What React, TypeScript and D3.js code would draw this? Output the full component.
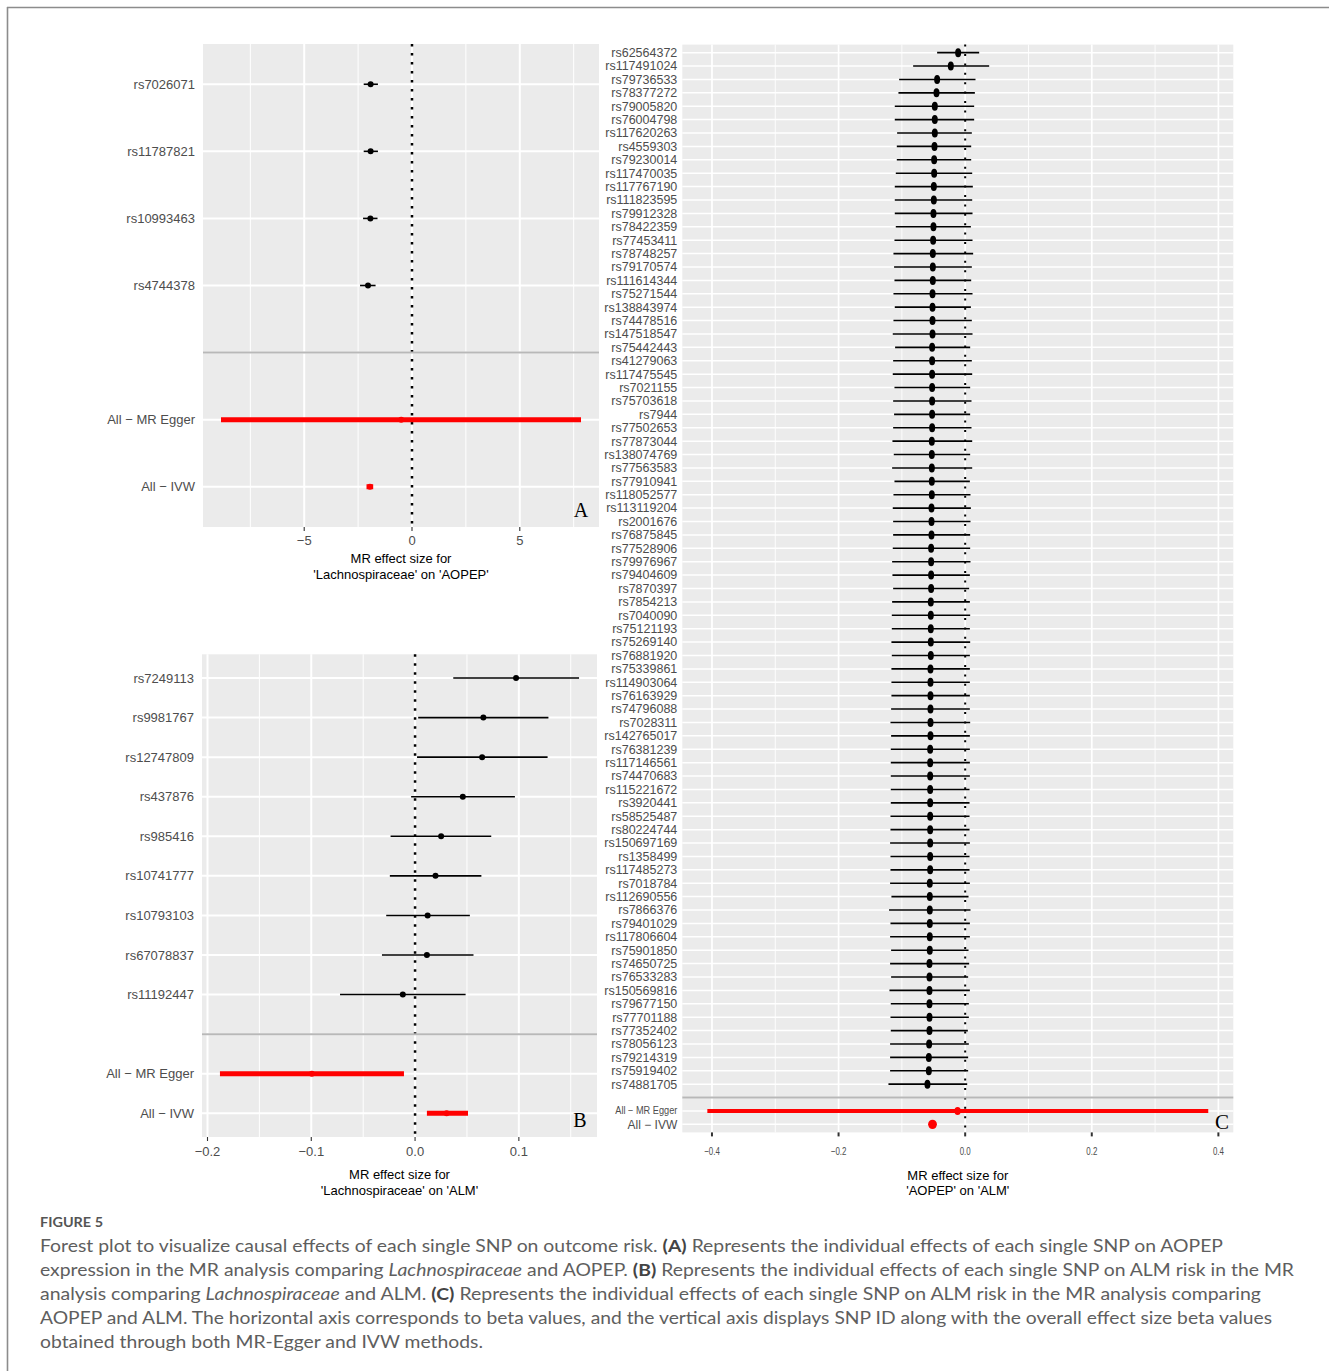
import React from 'react';
import * as d3 from 'd3';

// ---------------- Panel A data ----------------
const aSnps = ['rs7026071', 'rs11787821', 'rs10993463', 'rs4744378'];
const aBeta = [-1.92, -1.92, -1.93, -2.04];
const aLo = [-2.24, -2.24, -2.27, -2.41];
const aHi = [-1.58, -1.58, -1.6, -1.69];
const aMethods = ['All − MR Egger', 'All − IVW'];
const aMBeta = [-0.5, -1.95];
const aMLo = [-8.86, -2.11];
const aMHi = [7.84, -1.8];
const aMajor = [-5, 0, 5];
const aMinor = [-7.5, -2.5, 2.5, 7.5];

// ---------------- Panel B data ----------------
const bSnps = ['rs7249113', 'rs9981767', 'rs12747809', 'rs437876', 'rs985416', 'rs10741777', 'rs10793103', 'rs67078837', 'rs11192447'];
const bBeta = [0.0973, 0.0658, 0.0646, 0.046, 0.0251, 0.0197, 0.0121, 0.0114, -0.0118];
const bLo = [0.0368, 0.003, 0.0019, -0.0038, -0.0236, -0.0243, -0.0278, -0.0319, -0.0723];
const bHi = [0.158, 0.1285, 0.1277, 0.0962, 0.0734, 0.0639, 0.0528, 0.0563, 0.0487];
const bMethods = ['All − MR Egger', 'All − IVW'];
const bMBeta = [-0.0995, 0.0304];
const bMLo = [-0.188, 0.0114];
const bMHi = [-0.0107, 0.051];
const bMajor = [-0.2, -0.1, 0, 0.1];
const bMinor = [-0.15, -0.05, 0.05, 0.15];

// ---------------- Panel C data ----------------
const cSnps = [
  'rs62564372', 'rs117491024', 'rs79736533', 'rs78377272', 'rs79005820', 'rs76004798', 'rs117620263', 'rs4559303',
  'rs79230014', 'rs117470035', 'rs117767190', 'rs111823595', 'rs79912328', 'rs78422359', 'rs77453411', 'rs78748257',
  'rs79170574', 'rs111614344', 'rs75271544', 'rs138843974', 'rs74478516', 'rs147518547', 'rs75442443', 'rs41279063',
  'rs117475545', 'rs7021155', 'rs75703618', 'rs7944', 'rs77502653', 'rs77873044', 'rs138074769', 'rs77563583',
  'rs77910941', 'rs118052577', 'rs113119204', 'rs2001676', 'rs76875845', 'rs77528906', 'rs79976967', 'rs79404609',
  'rs7870397', 'rs7854213', 'rs7040090', 'rs75121193', 'rs75269140', 'rs76881920', 'rs75339861', 'rs114903064',
  'rs76163929', 'rs74796088', 'rs7028311', 'rs142765017', 'rs76381239', 'rs117146561', 'rs74470683', 'rs115221672',
  'rs3920441', 'rs58525487', 'rs80224744', 'rs150697169', 'rs1358499', 'rs117485273', 'rs7018784', 'rs112690556',
  'rs7866376', 'rs79401029', 'rs117806604', 'rs75901850', 'rs74650725', 'rs76533283', 'rs150569816', 'rs79677150',
  'rs77701188', 'rs77352402', 'rs78056123', 'rs79214319', 'rs75919402', 'rs74881705',
];
const cBeta = [
  -0.0111, -0.0227, -0.0443, -0.0453, -0.048, -0.048, -0.048, -0.0485,
  -0.049, -0.049, -0.0495, -0.0495, -0.0501, -0.0501, -0.0506, -0.0511,
  -0.0511, -0.0511, -0.0516, -0.0516, -0.0516, -0.0516, -0.0522, -0.0522,
  -0.0522, -0.0522, -0.0522, -0.0522, -0.0522, -0.0527, -0.0527, -0.0527,
  -0.0527, -0.0527, -0.0532, -0.0532, -0.0532, -0.0538, -0.0538, -0.0538,
  -0.0538, -0.0543, -0.0543, -0.0543, -0.0543, -0.0543, -0.0548, -0.0548,
  -0.0548, -0.0548, -0.0548, -0.0548, -0.0553, -0.0553, -0.0553, -0.0553,
  -0.0553, -0.0553, -0.0553, -0.0553, -0.0553, -0.0553, -0.0559, -0.0559,
  -0.0559, -0.0559, -0.0559, -0.0559, -0.0564, -0.0564, -0.0564, -0.0564,
  -0.0564, -0.0564, -0.0569, -0.0574, -0.0574, -0.0596,
];
const cLo = [
  -0.0443, -0.0822, -0.1043, -0.1054, -0.1112, -0.1112, -0.1075, -0.108,
  -0.108, -0.1096, -0.1112, -0.1112, -0.1112, -0.1096, -0.1117, -0.1133,
  -0.1123, -0.1117, -0.1133, -0.1112, -0.1133, -0.1144, -0.1107, -0.1138,
  -0.1144, -0.1117, -0.1138, -0.1123, -0.1138, -0.1149, -0.1128, -0.1154,
  -0.1117, -0.1133, -0.1144, -0.1138, -0.1138, -0.1144, -0.1154, -0.1149,
  -0.1138, -0.1154, -0.1159, -0.1159, -0.1165, -0.1159, -0.1165, -0.1165,
  -0.1165, -0.117, -0.118, -0.117, -0.1175, -0.1175, -0.1175, -0.1175,
  -0.1175, -0.118, -0.118, -0.1186, -0.118, -0.118, -0.1186, -0.1165,
  -0.1202, -0.118, -0.1186, -0.117, -0.1186, -0.117, -0.1196, -0.1175,
  -0.118, -0.1175, -0.1186, -0.1186, -0.1186, -0.1212,
];
const cHi = [
  0.0221, 0.0379, 0.0163, 0.0153, 0.0142, 0.0142, 0.0105, 0.0095,
  0.0095, 0.0111, 0.0121, 0.0111, 0.0116, 0.009, 0.0116, 0.0126,
  0.0105, 0.0095, 0.0116, 0.009, 0.0105, 0.0116, 0.0079, 0.0105,
  0.0111, 0.0079, 0.01, 0.0079, 0.01, 0.0111, 0.0079, 0.0111,
  0.0074, 0.0084, 0.009, 0.0084, 0.0079, 0.0079, 0.0084, 0.0074,
  0.0063, 0.0074, 0.0079, 0.0074, 0.0079, 0.0074, 0.0074, 0.0074,
  0.0074, 0.0074, 0.0079, 0.0074, 0.0074, 0.0074, 0.0074, 0.0069,
  0.0069, 0.0069, 0.0069, 0.0074, 0.0069, 0.0069, 0.0074, 0.0053,
  0.0084, 0.0074, 0.0074, 0.0053, 0.0063, 0.0047, 0.0074, 0.0058,
  0.0058, 0.0042, 0.0058, 0.0047, 0.0047, 0.0032,
];
const cMethods = ['All − MR Egger', 'All − IVW'];
const cMBeta = [-0.012, -0.0516];
const cMLo = [-0.4073, -0.056];
const cMHi = [0.384, -0.047];
const cMajor = [-0.4, -0.2, 0, 0.2, 0.4];
const cMinor = [-0.3, -0.1, 0.1, 0.3];

const SANS = "'Liberation Sans', Arial, Helvetica, sans-serif";
const SERIF = "'Liberation Serif', 'Times New Roman', serif";

type PanelProps = {
  snps: string[]; beta: number[]; lo: number[]; hi: number[];
  methods: string[]; mBeta: number[]; mLo: number[]; mHi: number[];
  major: number[]; minor: number[]; fmt: string;
  left: number; right: number; top: number; bottom: number;
  title: string[]; letter: string;
  labelFont: number; labelGap: number;
  tickFont: number; tickScaleX: number; tickLabelDy: number; tickW: number; tickColor: string;
  titleDy: number; titleGap: number;
  pointRx: number; pointRy: number; barW: number;
  mBarW: number; mPoint: number[][];
  hGridW: number; vMajorW: number; vMinorW: number;
  dash: string; dashW: number; sepW: number;
  letterX: number; letterY: number; letterSize: number;
  methodLabelSize?: number[]; methodLabelLen?: (number | null)[];
};

function ForestPanel(p: PanelProps) {
  const cats = [...p.snps, '', ...p.methods];
  const y = d3.scalePoint<string>().domain(cats).range([p.top, p.bottom]).padding(0.6);
  const lo = d3.min([...p.lo, ...p.mLo]) as number;
  const hi = d3.max([...p.hi, ...p.mHi]) as number;
  const pad = (hi - lo) * 0.05;
  const x = d3.scaleLinear().domain([lo - pad, hi + pad]).range([p.left, p.right]);
  const fmt = d3.format(p.fmt);
  const cx = (p.left + p.right) / 2;
  return (
    <g>
      <rect x={p.left} y={p.top} width={p.right - p.left} height={p.bottom - p.top} fill="#EBEBEB" />
      {p.minor.map((v) => (
        <line key={'mi' + v} x1={x(v)} x2={x(v)} y1={p.top} y2={p.bottom} stroke="#fff" strokeWidth={p.vMinorW} />
      ))}
      {p.major.map((v) => (
        <line key={'ma' + v} x1={x(v)} x2={x(v)} y1={p.top} y2={p.bottom} stroke="#fff" strokeWidth={p.vMajorW} />
      ))}
      {cats.map((c, i) => (
        <line key={'h' + i} x1={p.left} x2={p.right} y1={y(c)} y2={y(c)} stroke="#fff" strokeWidth={p.hGridW} />
      ))}
      <line x1={x(0)} x2={x(0)} y1={p.top} y2={p.bottom} stroke="#000" strokeWidth={p.dashW} strokeDasharray={p.dash} />
      {p.snps.map((s, i) => (
        <g key={'s' + s}>
          <line x1={x(p.lo[i])} x2={x(p.hi[i])} y1={y(s)} y2={y(s)} stroke="#000" strokeWidth={p.barW} />
          <ellipse cx={x(p.beta[i])} cy={y(s)} rx={p.pointRx} ry={p.pointRy} fill="#000" />
        </g>
      ))}
      {p.methods.map((m, i) => (
        <g key={'m' + m}>
          <line x1={x(p.mLo[i])} x2={x(p.mHi[i])} y1={y(m)} y2={y(m)} stroke="#FF0000" strokeWidth={p.mBarW} />
          <ellipse cx={x(p.mBeta[i])} cy={y(m)} rx={p.mPoint[i][0]} ry={p.mPoint[i][1]} fill="#FF0000" />
        </g>
      ))}
      <line x1={p.left} x2={p.right} y1={y('')} y2={y('')} stroke="#B8B8B8" strokeWidth={p.sepW} />
      {p.snps.map((s) => (
        <text key={'l' + s} x={p.left - p.labelGap} y={(y(s) as number)} dy="0.35em" textAnchor="end"
          fontFamily={SANS} fontSize={p.labelFont} fill="#4D4D4D">{s}</text>
      ))}
      {p.methods.map((m, i) => (
        <text key={'ml' + m} x={p.left - p.labelGap} y={(y(m) as number)} dy="0.35em" textAnchor="end"
          fontFamily={SANS} fontSize={p.methodLabelSize ? p.methodLabelSize[i] : p.labelFont} fill="#4D4D4D"
          {...(p.methodLabelLen && p.methodLabelLen[i] ? { textLength: p.methodLabelLen[i] as number, lengthAdjust: 'spacingAndGlyphs' } : {})}>
          {m}
        </text>
      ))}
      {p.major.map((v) => (
        <g key={'t' + v} transform={`translate(${x(v)},${p.bottom})`}>
          <line y1={0} y2={4} stroke={p.tickColor} strokeWidth={p.tickW} />
          <text y={p.tickLabelDy} textAnchor="middle" fontFamily={SANS} fontSize={p.tickFont} fill="#4D4D4D"
            transform={`scale(${p.tickScaleX},1)`}>{fmt(v)}</text>
        </g>
      ))}
      {p.title.map((t, i) => (
        <text key={'ti' + i} x={cx} y={p.bottom + p.titleDy + i * p.titleGap} textAnchor="middle"
          fontFamily={SANS} fontSize={13} fill="#000">{t}</text>
      ))}
      <text x={p.letterX} y={p.letterY} textAnchor="middle" fontFamily={SERIF} fontSize={p.letterSize} fill="#000">{p.letter}</text>
    </g>
  );
}

const captionLines = [
  [
    { t: 'Forest plot to visualize causal effects of each single SNP on outcome risk. ' },
    { t: '(A)', b: true },
    { t: ' Represents the individual effects of each single SNP on AOPEP' },
  ],
  [
    { t: 'expression in the MR analysis comparing ' },
    { t: 'Lachnospiraceae', i: true },
    { t: ' and AOPEP. ' },
    { t: '(B)', b: true },
    { t: ' Represents the individual effects of each single SNP on ALM risk in the MR' },
  ],
  [
    { t: 'analysis comparing ' },
    { t: 'Lachnospiraceae', i: true },
    { t: ' and ALM. ' },
    { t: '(C)', b: true },
    { t: ' Represents the individual effects of each single SNP on ALM risk in the MR analysis comparing' },
  ],
  [
    { t: 'AOPEP and ALM. The horizontal axis corresponds to beta values, and the vertical axis displays SNP ID along with the overall effect size beta values' },
  ],
  [{ t: 'obtained through both MR-Egger and IVW methods.' }],
];
const captionWidths = [1183, 1254, 1221, 1232, 443];

export default function App() {
  const common = {
    labelFont: 13, labelGap: 8, tickFont: 13, tickScaleX: 1, tickW: 1.1, tickColor: '#333',
    titleGap: 15.5, pointRx: 3, pointRy: 3, barW: 1.6, mBarW: 5, mPoint: [[3, 3], [3, 3]],
    hGridW: 2, vMajorW: 2, vMinorW: 1, dash: '2.5 6.5', dashW: 2.5, sepW: 2, letterSize: 20,
  };
  return (
    <div style={{ position: 'absolute', left: 0, top: 0 }}>
      <svg width={1329} height={1371} style={{ display: 'block', background: '#fff' }}>
        <line x1={7} x2={1329} y1={7.5} y2={7.5} stroke="#8C8C8C" strokeWidth={1.6} />
        <line x1={7.5} x2={7.5} y1={7} y2={1371} stroke="#8C8C8C" strokeWidth={1.6} />
        <ForestPanel {...common}
          snps={aSnps} beta={aBeta} lo={aLo} hi={aHi}
          methods={aMethods} mBeta={aMBeta} mLo={aMLo} mHi={aMHi}
          major={aMajor} minor={aMinor} fmt="d"
          left={203} right={599} top={44} bottom={527}
          title={['MR effect size for', "'Lachnospiraceae' on 'AOPEP'"]} letter="A"
          tickLabelDy={18} titleDy={36} letterX={581} letterY={517} />
        <ForestPanel {...common}
          snps={bSnps} beta={bBeta} lo={bLo} hi={bHi}
          methods={bMethods} mBeta={bMBeta} mLo={bMLo} mHi={bMHi}
          major={bMajor} minor={bMinor} fmt=".1f"
          left={202} right={597} top={654.3} bottom={1137}
          title={['MR effect size for', "'Lachnospiraceae' on 'ALM'"]} letter="B"
          tickLabelDy={19} titleDy={42} letterX={580} letterY={1127} />
        <ForestPanel {...common}
          snps={cSnps} beta={cBeta} lo={cLo} hi={cHi}
          methods={cMethods} mBeta={cMBeta} mLo={cMLo} mHi={cMHi}
          major={cMajor} minor={cMinor} fmt=".1f"
          left={682.3} right={1233.3} top={44.6} bottom={1132.4}
          title={['MR effect size for', "'AOPEP' on 'ALM'"]} letter="C"
          labelFont={12.5} labelGap={5} tickFont={11} tickScaleX={0.72} tickLabelDy={23} tickW={2}
          titleDy={47.5} titleGap={15.5}
          pointRx={3} pointRy={4.5} barW={1.6} mBarW={4} mPoint={[[3.2, 4], [4.4, 4.7]]}
          hGridW={1.5} vMajorW={1.7} vMinorW={0.9} dash="2 7.4" dashW={2} sepW={2}
          letterX={1222} letterY={1129} letterSize={21}
          methodLabelSize={[10, 12]} methodLabelLen={[62, null]} />
        <text x={40} y={1227} fontFamily="Lato, 'Open Sans', sans-serif" fontSize={13} fontWeight={700} fill="#555"
          textLength={63} lengthAdjust="spacingAndGlyphs">FIGURE 5</text>
        {captionLines.map((line, li) => (
          <text key={'cap' + li} x={40} y={1251.5 + li * 24.2} fontFamily="Lato, 'Open Sans', sans-serif" fontSize={17.5}
            fill="#5E5E5E"
            {...(captionWidths[li] ? { textLength: captionWidths[li] as number, lengthAdjust: 'spacingAndGlyphs' } : {})}>
            {line.map((seg: any, si) => (
              <tspan key={si} fontStyle={seg.i ? 'italic' : 'normal'} fontWeight={seg.b ? 700 : 400}
                fill={seg.b ? '#444' : undefined}>{seg.t}</tspan>
            ))}
          </text>
        ))}
      </svg>
    </div>
  );
}
